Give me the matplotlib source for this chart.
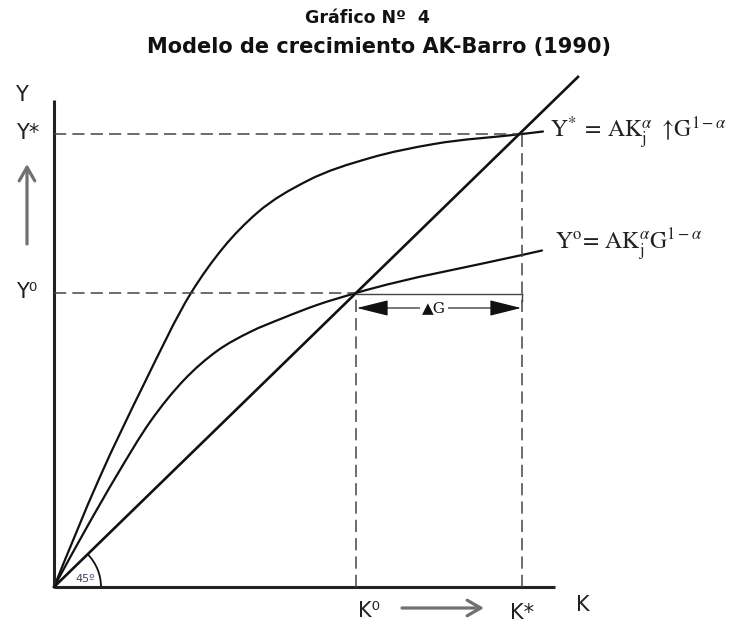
import numpy as np
import matplotlib.pyplot as plt
from matplotlib.path import Path
from matplotlib.patches import PathPatch, Arc

plt.rcParams['mathtext.fontset'] = 'stix'

# Niveles de equilibrio (capital y producto)
K0, Y0 = 302, 294
K_star, Y_star = 468, 453
K_end = 524          # extremo de la recta de 45º

# Y* = AK^a ↑G^(1-a)  (función con mayor gasto público)
top_k = [0, 45, 90, 137, 169, 203, 253, 316, 380, 468, 489]
top_y = [0, 108, 203, 294, 339, 374, 406, 429, 443, 453, 455.5]

# Y0 = AK^a G^(1-a)
mid_k = [0, 33, 63, 96, 130, 163, 196, 229, 263, 302, 468, 488]
mid_y = [0, 60, 112, 165, 207, 236, 255, 269, 282, 294, 332, 336.5]


def smooth_path(xs, ys):
    """Curva suave por los puntos dados (hermite cúbica -> bezier)."""
    x = np.asarray(xs, float)
    y = np.asarray(ys, float)
    h = np.diff(x)
    d = np.diff(y) / h
    m = np.empty_like(x)
    m[1:-1] = (h[1:] * d[:-1] + h[:-1] * d[1:]) / (h[:-1] + h[1:])
    m[0] = (3 * d[0] - m[1]) / 2
    m[-1] = (3 * d[-1] - m[-2]) / 2
    verts = [(x[0], y[0])]
    codes = [Path.MOVETO]
    for i in range(len(h)):
        t = h[i] / 3
        verts += [(x[i] + t, y[i] + m[i] * t),
                  (x[i + 1] - t, y[i + 1] - m[i + 1] * t),
                  (x[i + 1], y[i + 1])]
        codes += [Path.CURVE4] * 3
    return Path(verts, codes)


fig = plt.figure(figsize=(7.31, 6.22), dpi=100)
ax = fig.add_axes([0, 0, 1, 1])
ax.set_xlim(-54, 677)
ax.set_ylim(-35, 587)
ax.axis('off')

# títulos
fig.text(0.502, 0.971, 'Gráfico Nº  4', ha='center', va='center',
         fontsize=12.5, fontweight='bold', color='#111')
fig.text(0.518, 0.925, 'Modelo de crecimiento AK-Barro (1990)', ha='center',
         va='center', fontsize=15, fontweight='bold', color='#111')

# ejes
ax.plot([0, 0], [0, 487], color='#222', lw=2.2, solid_capstyle='butt')
ax.plot([0, 501], [0, 0], color='#222', lw=2.2, solid_capstyle='butt')

# líneas de referencia discontinuas
dash = dict(color='#444', lw=1.1, dashes=(8, 4))
ax.plot([0, K_star], [Y_star, Y_star], **dash)
ax.plot([0, K0], [Y0, Y0], **dash)
ax.plot([K0, K0], [0, Y0], **dash)
ax.plot([K_star, K_star], [0, Y_star], **dash)

# recta de 45º
slope = Y0 / K0
ax.plot([0, K_end], [0, K_end * slope], color='#111', lw=1.9)

# funciones de producción
for xs, ys in [(top_k, top_y), (mid_k, mid_y)]:
    ax.add_patch(PathPatch(smooth_path(xs, ys), fill=False,
                           edgecolor='#111', lw=1.6, capstyle='round'))

# ángulo de 45º
ax.add_patch(Arc((0, 0), 94, 94, theta1=0, theta2=np.degrees(np.arctan(slope)),
                 color='#111', lw=1.3))
ax.text(31, 8, '45º', fontsize=8, color='#3b4660', ha='center', va='center')

# aumento del gasto público (ΔG)
ax.plot([K0, K_star], [Y0 - 1, Y0 - 1], color='#444', lw=1.0)
ax.plot([K_star, K_star], [Y0 - 1, Y0 - 8], color='#444', lw=1.0)
ax.annotate('', xy=(K0 + 1, Y0 - 15), xytext=(K_star - 1, Y0 - 15),
            arrowprops=dict(arrowstyle='<|-|>,head_length=2.0,head_width=0.5',
                            color='#111', lw=0.8, mutation_scale=10,
                            shrinkA=0, shrinkB=0))
ax.text((K0 + K_star) / 2 - 5, Y0 - 15, '▲G', fontsize=11, ha='center', va='center',
        family='DejaVu Serif', color='#111',
        bbox=dict(boxstyle='square,pad=0.1', fc='white', ec='none'))

# rótulos de los ejes
lab = dict(fontsize=15, color='#222', ha='center', va='center')
ax.text(-33, 492, 'Y', **lab)
ax.text(-26, Y_star + 1, 'Y*', **lab)
ax.text(-27, Y0 + 1, 'Y⁰', **lab)
ax.text(K0 + 13, -24, 'K⁰', **lab)
ax.text(K_star, -26, 'K*', **lab)
ax.text(529, -18, 'K', **lab)

# flechas de desplazamiento
gray = dict(arrowstyle='->,head_length=0.7,head_width=0.4', color='#707070',
            lw=2.3, mutation_scale=14, shrinkA=0, shrinkB=0)
ax.annotate('', xy=(-27, 423), xytext=(-27, 343), arrowprops=gray)
ax.annotate('', xy=(430, -21), xytext=(348, -21), arrowprops=gray)

# ecuaciones de las curvas
ax.text(496, Y_star + 1, r'$\mathrm{Y}^{*}\;=\,\mathrm{AK}_{\mathrm{j}}^{\alpha}\ \uparrow\!\mathrm{G}^{1-\alpha}$',
        fontsize=17, ha='left', va='center', color='#222')
ax.text(501, 342, r'$\mathrm{Y}^{\mathrm{o}}\!=\,\mathrm{AK}_{\mathrm{j}}^{\alpha}\mathrm{G}^{1-\alpha}$',
        fontsize=17, ha='left', va='center', color='#222')

fig.savefig('out.png', dpi=100, facecolor='white')
